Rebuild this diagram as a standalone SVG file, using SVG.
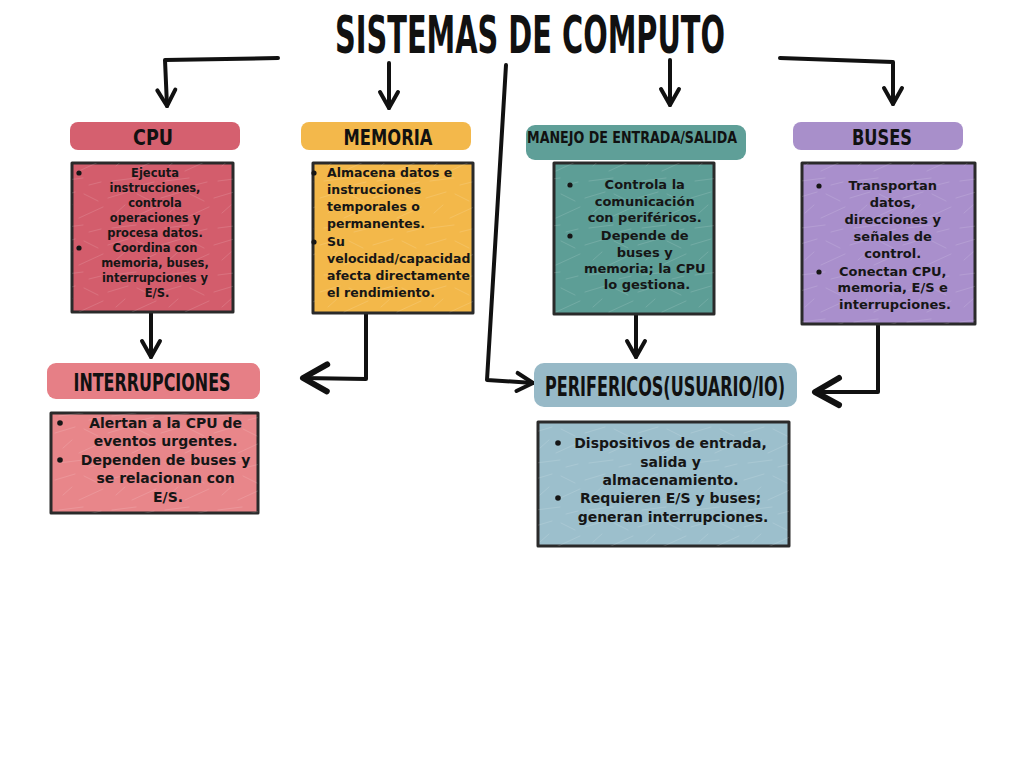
<svg xmlns="http://www.w3.org/2000/svg" width="1024" height="768" viewBox="0 0 1024 768">
<defs>
<style>
.title{font-family:"DejaVu Sans Condensed","DejaVu Sans",sans-serif;font-weight:bold;fill:#111;text-anchor:middle}
.hdr{font-family:"DejaVu Sans Condensed","DejaVu Sans",sans-serif;font-weight:bold;fill:#111;text-anchor:middle}
.body{font-family:"DejaVu Sans",sans-serif;font-weight:bold;fill:#161616}
.c{text-anchor:middle}
.box{stroke:#2a2a2a;stroke-width:3;stroke-linejoin:round}
.cap{stroke:none}
.tex{fill:url(#scratch);stroke:none}
.wire{fill:none;stroke:#111;stroke-width:4;stroke-linecap:round;stroke-linejoin:round}
.bul{fill:#161616}
</style>
<pattern id="scratch" width="53" height="47" patternUnits="userSpaceOnUse">
<g stroke="#ffffff" stroke-opacity="0.13" stroke-width="1" stroke-linecap="round">
<line x1="2" y1="10" x2="22" y2="4"/>
<line x1="26" y1="30" x2="50" y2="19"/>
<line x1="6" y1="40" x2="30" y2="37"/>
<line x1="31" y1="6" x2="45" y2="13"/>
<line x1="10" y1="25" x2="19" y2="17"/>
<line x1="36" y1="44" x2="48" y2="41"/>
</g>
</pattern>
<marker id="ah" markerUnits="userSpaceOnUse" markerWidth="30" markerHeight="30" viewBox="-20 -15 30 30" refX="0" refY="0" orient="auto">
<path d="M-16,-9 L0,0 L-16,9" fill="none" stroke="#111" stroke-width="4" stroke-linecap="round" stroke-linejoin="round"/>
</marker>
<marker id="ahb" markerUnits="userSpaceOnUse" markerWidth="40" markerHeight="40" viewBox="-30 -20 40 40" refX="0" refY="0" orient="auto">
<path d="M-24,-13 L0,0 L-24,14" fill="none" stroke="#111" stroke-width="6" stroke-linecap="round" stroke-linejoin="round"/>
</marker>
</defs>
<rect width="1024" height="768" fill="#ffffff"/>

<text class="title" x="530" y="53" font-size="52" textLength="390" lengthAdjust="spacingAndGlyphs">SISTEMAS DE COMPUTO</text>

<g id="connectors">
<path class="wire" d="M278,58 L165,60 L167,106" marker-end="url(#ah)"/>
<path class="wire" d="M389,63 L389,108" marker-end="url(#ah)"/>
<path class="wire" d="M506,65 L487,380 L533,383" marker-end="url(#ah)"/>
<path class="wire" d="M670,60 L670,105" marker-end="url(#ah)"/>
<path class="wire" d="M780,58 L893,62 L893,104" marker-end="url(#ah)"/>
<path class="wire" d="M151,313 L151,357" marker-end="url(#ah)"/>
<path class="wire" d="M366,310 L366,379 L303,378" marker-end="url(#ahb)"/>
<path class="wire" d="M636,313 L636,357" marker-end="url(#ah)"/>
<path class="wire" d="M878,325 L878,392 L815,392" marker-end="url(#ahb)"/>
</g>

<g id="cpu">
<rect class="cap" x="70" y="122" width="170" height="28" rx="8" fill="#d5606f"/>
<text class="hdr" x="153" y="145" font-size="22" textLength="40" lengthAdjust="spacingAndGlyphs">CPU</text>
<rect class="box" x="72" y="163" width="161" height="149" fill="#d35d6c"/>
<rect class="tex" x="72" y="163" width="161" height="149"/>
<circle class="bul" cx="79" cy="173" r="2.6"/>
<circle class="bul" cx="79" cy="248" r="2.6"/>
<text class="body c" font-size="11.5">
<tspan x="157" y="177">Ejecuta</tspan>
<tspan x="157" y="192">instrucciones,</tspan>
<tspan x="157" y="207">controla</tspan>
<tspan x="157" y="222">operaciones y</tspan>
<tspan x="157" y="237">procesa datos.</tspan>
<tspan x="157" y="252">Coordina con</tspan>
<tspan x="157" y="267">memoria, buses,</tspan>
<tspan x="157" y="282">interrupciones y</tspan>
<tspan x="157" y="297">E/S.</tspan>
</text>
</g>

<g id="memoria">
<rect class="cap" x="301" y="122" width="170" height="28" rx="8" fill="#f3b84b"/>
<text class="hdr" x="388" y="145" font-size="22" textLength="89" lengthAdjust="spacingAndGlyphs">MEMORIA</text>
<rect class="box" x="313" y="163" width="160" height="150" fill="#f3b84a"/>
<rect class="tex" x="313" y="163" width="160" height="150"/>
<circle class="bul" cx="314" cy="173" r="2.6"/>
<circle class="bul" cx="314" cy="242" r="2.6"/>
<text class="body" font-size="12.5">
<tspan x="327" y="177">Almacena datos e</tspan>
<tspan x="327" y="194">instrucciones</tspan>
<tspan x="327" y="211">temporales o</tspan>
<tspan x="327" y="228">permanentes.</tspan>
<tspan x="327" y="246">Su</tspan>
<tspan x="327" y="263">velocidad/capacidad</tspan>
<tspan x="327" y="280">afecta directamente</tspan>
<tspan x="327" y="297">el rendimiento.</tspan>
</text>
</g>

<g id="manejo">
<rect class="cap" x="526" y="125" width="220" height="35" rx="9" fill="#5f9f98"/>
<text class="hdr" x="632" y="143" font-size="16" textLength="210" lengthAdjust="spacingAndGlyphs">MANEJO DE ENTRADA/SALIDA</text>
<rect class="box" x="554" y="163" width="160" height="151" fill="#5d9e96"/>
<rect class="tex" x="554" y="163" width="160" height="151"/>
<circle class="bul" cx="570" cy="185" r="2.6"/>
<circle class="bul" cx="570" cy="236" r="2.6"/>
<text class="body c" font-size="13">
<tspan x="647" y="189">Controla la</tspan>
<tspan x="647" y="206">comunicación</tspan>
<tspan x="647" y="222">con periféricos.</tspan>
<tspan x="647" y="240">Depende de</tspan>
<tspan x="647" y="257">buses y</tspan>
<tspan x="647" y="273">memoria; la CPU</tspan>
<tspan x="647" y="289">lo gestiona.</tspan>
</text>
</g>

<g id="buses">
<rect class="cap" x="793" y="122" width="170" height="28" rx="8" fill="#a88fca"/>
<text class="hdr" x="882" y="145" font-size="22" textLength="60" lengthAdjust="spacingAndGlyphs">BUSES</text>
<rect class="box" x="802" y="163" width="173" height="161" fill="#a98fcc"/>
<rect class="tex" x="802" y="163" width="173" height="161"/>
<circle class="bul" cx="819" cy="186" r="2.6"/>
<circle class="bul" cx="819" cy="272" r="2.6"/>
<text class="body c" font-size="13">
<tspan x="895" y="190">Transportan</tspan>
<tspan x="895" y="207">datos,</tspan>
<tspan x="895" y="224">direcciones y</tspan>
<tspan x="895" y="241">señales de</tspan>
<tspan x="895" y="258">control.</tspan>
<tspan x="895" y="276">Conectan CPU,</tspan>
<tspan x="895" y="292">memoria, E/S e</tspan>
<tspan x="895" y="309">interrupciones.</tspan>
</text>
</g>

<g id="interrupciones">
<rect class="cap" x="47" y="363" width="213" height="36" rx="9" fill="#e67f86"/>
<text class="hdr" x="152" y="391" font-size="24" textLength="157" lengthAdjust="spacingAndGlyphs">INTERRUPCIONES</text>
<rect class="box" x="51" y="413" width="207" height="100" fill="#e8868a"/>
<rect class="tex" x="51" y="413" width="207" height="100"/>
<circle class="bul" cx="60" cy="423" r="2.8"/>
<circle class="bul" cx="60" cy="460" r="2.8"/>
<text class="body c" font-size="14">
<tspan x="168" y="428">Alertan a la CPU de</tspan>
<tspan x="168" y="446">eventos urgentes.</tspan>
<tspan x="168" y="465">Dependen de buses y</tspan>
<tspan x="168" y="483">se relacionan con</tspan>
<tspan x="168" y="502">E/S.</tspan>
</text>
</g>

<g id="perifericos">
<rect class="cap" x="534" y="363" width="263" height="44" rx="10" fill="#97b9c7"/>
<text class="hdr" x="665" y="396" font-size="26" textLength="240" lengthAdjust="spacingAndGlyphs">PERIFERICOS(USUARIO/IO)</text>
<rect class="box" x="538" y="422" width="251" height="124" fill="#9cbfcc"/>
<rect class="tex" x="538" y="422" width="251" height="124"/>
<circle class="bul" cx="558" cy="443" r="2.8"/>
<circle class="bul" cx="558" cy="498" r="2.8"/>
<text class="body c" font-size="14">
<tspan x="673" y="448">Dispositivos de entrada,</tspan>
<tspan x="673" y="467">salida y</tspan>
<tspan x="673" y="485">almacenamiento.</tspan>
<tspan x="673" y="503">Requieren E/S y buses;</tspan>
<tspan x="673" y="522">generan interrupciones.</tspan>
</text>
</g>
</svg>
